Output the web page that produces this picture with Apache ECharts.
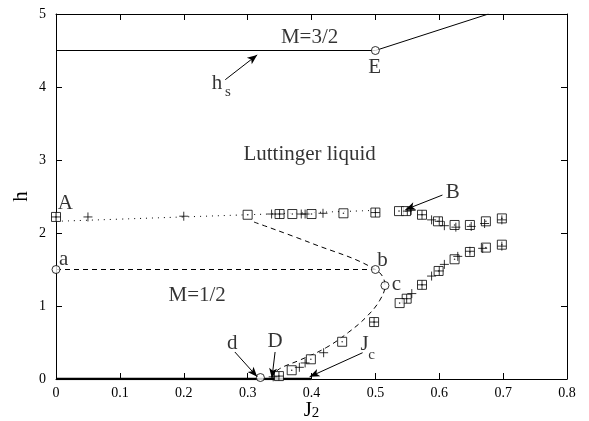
<!DOCTYPE html>
<html><head><meta charset="utf-8">
<script src="https://cdn.jsdelivr.net/npm/echarts@6/dist/echarts.min.js"></script>
<style>html,body{margin:0;padding:0;background:#fff}#c{width:589px;height:421px}</style>
</head><body><div id="c"></div>
<script>
// ---- data ----
const xTicks = [0, 0.1, 0.2, 0.3, 0.4, 0.5, 0.6, 0.7, 0.8];
const yTicks = [0, 1, 2, 3, 4, 5];
const squares = [
  [0,2.22],[0.30,2.25],[0.35,2.26],[0.37,2.26],[0.40,2.26],[0.45,2.27],[0.50,2.28],
  [0.537,2.30],[0.548,2.30],[0.573,2.25],[0.598,2.16],[0.624,2.11],[0.648,2.11],[0.673,2.16],[0.698,2.20],
  [0.698,1.84],[0.673,1.80],[0.648,1.74],[0.624,1.64],[0.599,1.48],[0.573,1.29],[0.549,1.10],[0.538,1.04],
  [0.498,0.78],[0.448,0.51],[0.399,0.27],[0.369,0.12],[0.349,0.04]
];
const pluses = [
  [0,2.22],[0.05,2.22],[0.20,2.23],[0.3375,2.26],[0.35,2.26],[0.384,2.26],[0.39,2.26],[0.418,2.27],[0.50,2.28],
  [0.55,2.30],[0.556,2.31],[0.573,2.25],[0.588,2.18],[0.60,2.16],[0.608,2.10],[0.626,2.08],[0.65,2.09],[0.671,2.13],[0.698,2.18],
  [0.698,1.82],[0.668,1.79],[0.648,1.75],[0.629,1.68],[0.608,1.57],[0.60,1.48],[0.588,1.41],[0.573,1.29],[0.557,1.17],[0.549,1.10],
  [0.498,0.78],[0.419,0.36],[0.39,0.22],[0.381,0.16],[0.349,0.04],[0.34,0.03]
];
const circles = [[0,1.5],[0.5,1.5],[0.515,1.28],[0.32,0.02],[0.5,4.5]];
const hsLine = [[0,4.5],[0.5,4.5],[0.677,5.0]];
const dottedLine = [[0,2.16],[0.1,2.19],[0.2,2.22],[0.3,2.25],[0.4,2.28],[0.5,2.31]];
const abLine = [[0,1.5],[0.5,1.5]];
const dashedCurve = [[0.31,2.15],[0.4,1.86],[0.5,1.5],[0.515,1.28],[0.507,1.08],[0.487,0.86],[0.458,0.64],[0.423,0.43],[0.382,0.26],[0.35,0.14],[0.337,0.03]];
const boldBase = [[0,0],[0.4,0]];
const textLabels = [
  ['M=3/2',0.397,4.68],['E',0.499,4.27],['h',0.252,4.05],['Luttinger liquid',0.397,3.07],
  ['A',0.0145,2.41],['a',0.012,1.64],['B',0.621,2.55],['b',0.511,1.63],['c',0.533,1.29],
  ['M=1/2',0.221,1.15],['d',0.276,0.49],['D',0.343,0.51],['J',0.483,0.47]
];
const subLabels = [['s',0.269,3.93],['c',0.494,0.33]];
const arrows = [
  [[0.265,4.10],[0.315,4.44]],
  [[0.605,2.52],[0.547,2.32]],
  [[0.280,0.37],[0.315,0.03]],
  [[0.343,0.37],[0.338,0.01]],
  [[0.480,0.36],[0.397,0.03]]
];
// ---- chart ----
const FONT = 'Liberation Serif';
const chart = echarts.init(document.getElementById('c'));
const plusPath = 'path://M0,5L10,5M5,0L5,10';
const axisCommon = {
  type:'value', axisLine:{show:true,onZero:false,lineStyle:{color:'#000',width:1}},
  axisTick:{show:true,inside:true,length:6,lineStyle:{color:'#000'}},
  splitLine:{show:false}
};
const labelSeries = (arr, size) => ({
  type:'scatter', symbolSize:0, silent:true, z:5,
  data: arr.map(t => ({value:[t[1],t[2]], name:t[0]})),
  label:{show:true, position:'inside', formatter:p=>p.name, fontFamily:FONT, fontSize:size, color:'#000'}
});
chart.setOption({
  animation:false,
  grid:{left:56,right:22,top:14,bottom:42,containLabel:false,outerBoundsMode:'none'},
  xAxis:[
    Object.assign({}, axisCommon, {min:0,max:0.8,interval:0.1,position:'bottom',
      name:'{j|J}{s|2}', nameLocation:'middle', nameGap:20, nameMoveOverlap:false,
      nameTextStyle:{verticalAlign:'top',rich:{j:{fontFamily:FONT,fontSize:21,color:'#000',lineHeight:22},s:{fontFamily:FONT,fontSize:15,color:'#000',padding:[7,0,0,0]}}},
      axisLabel:{fontFamily:FONT,fontSize:14,color:'#000',margin:7}}),
    Object.assign({}, axisCommon, {min:0,max:0.8,interval:0.1,position:'top',axisLabel:{show:false}})
  ],
  yAxis:[
    Object.assign({}, axisCommon, {min:0,max:5,interval:1,position:'left',
      name:'h', nameLocation:'middle', nameGap:24, nameRotate:90, nameMoveOverlap:false,
      nameTextStyle:{fontFamily:FONT,fontSize:21,color:'#000'},
      axisLabel:{fontFamily:FONT,fontSize:14,color:'#000',margin:10}}),
    Object.assign({}, axisCommon, {min:0,max:5,interval:1,position:'right',axisLabel:{show:false}})
  ],
  series:[
    {type:'line', data:hsLine, symbol:'none', lineStyle:{color:'#000',width:1}},
    {type:'line', data:dottedLine, symbol:'none', smooth:true, lineStyle:{color:'#000',width:1,type:[1,5]}},
    {type:'line', data:abLine, symbol:'none', lineStyle:{color:'#000',width:1,type:[5,4]}},
    {type:'line', data:dashedCurve, symbol:'none', smooth:0.4, lineStyle:{color:'#000',width:1,type:[5,4]}},
    {type:'line', data:boldBase, symbol:'none', lineStyle:{color:'#000',width:2.5}},
    {type:'scatter', data:squares, symbol:'rect', symbolSize:9, itemStyle:{color:'#fff',borderColor:'#000',borderWidth:1}, z:3},
    {type:'scatter', data:squares, symbol:'circle', symbolSize:1.6, itemStyle:{color:'#000'}, z:4},
    {type:'scatter', data:pluses, symbol:plusPath, symbolSize:9, itemStyle:{color:'none',borderColor:'#000',borderWidth:1}, z:4},
    {type:'scatter', data:circles, symbol:'circle', symbolSize:8, itemStyle:{color:'#fff',borderColor:'#000',borderWidth:1}, z:4},
    {type:'line', data:[], symbol:'none',
      markLine:{silent:true, symbol:['none','arrow'], symbolSize:[6,10], label:{show:false},
        lineStyle:{color:'#000',width:1,type:'solid'},
        data: arrows.map(a => [{coord:a[0]},{coord:a[1]}])}},
    labelSeries(textLabels.filter(t=>t[0]!=='Luttinger liquid'), 21),
    labelSeries(textLabels.filter(t=>t[0]==='Luttinger liquid'), 21),
    labelSeries(subLabels, 15)
  ]
});
</script></body></html>
